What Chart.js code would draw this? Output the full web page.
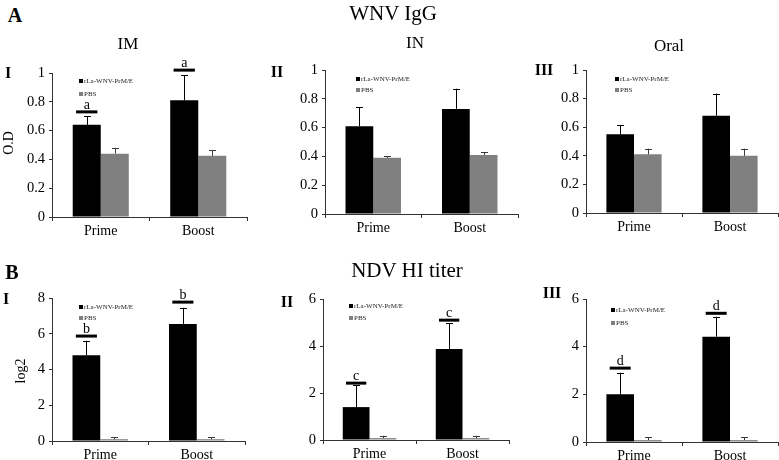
<!DOCTYPE html>
<html><head><meta charset="utf-8">
<script src="https://cdn.jsdelivr.net/npm/chart.js@4"></script>
<style>
html,body{margin:0;padding:0;background:#fff;}
body{width:779px;height:460px;position:relative;overflow:hidden;font-family:"Liberation Serif","Times New Roman",serif;color:#000;}
.c{position:absolute;}
.t{position:absolute;transform:translate(-50%,-50%);white-space:nowrap;line-height:1;}
.b{font-weight:bold;}
.lg{position:absolute;font-size:7px;line-height:1;white-space:nowrap;color:#222;}
.lg i{display:inline-block;width:4px;height:4px;margin-right:1px;vertical-align:0px;}
</style></head><body>
<script>
// ---------- data ----------
const categories = ['Prime', 'Boost'];
const seriesNames = ['rLa-WNV-PrM/E', 'PBS'];

// A: WNV IgG (O.D)
const imVaccine = [0.64, 0.81];   const imVaccineSD = [0.06, 0.175];
const imPBS = [0.44, 0.425];      const imPBSSD = [0.04, 0.04];
const inVaccine = [0.61, 0.73];   const inVaccineSD = [0.13, 0.14];
const inPBS = [0.39, 0.41];       const inPBSSD = [0.012, 0.02];
const oralVaccine = [0.55, 0.68]; const oralVaccineSD = [0.065, 0.155];
const oralPBS = [0.41, 0.40];     const oralPBSSD = [0.04, 0.05];

// B: NDV HI titer (log2)
const hiImVaccine = [4.8, 6.55];   const hiImVaccineSD = [0.8, 0.9];
const hiImPBS = [0.1, 0.1];        const hiImPBSSD = [0.1, 0.1];
const hiInVaccine = [1.4, 3.87];   const hiInVaccineSD = [0.93, 1.1];
const hiInPBS = [0.08, 0.08];      const hiInPBSSD = [0.1, 0.1];
const hiOralVaccine = [2.0, 4.42]; const hiOralVaccineSD = [0.9, 0.83];
const hiOralPBS = [0.08, 0.08];    const hiOralPBSSD = [0.12, 0.12];

// significance markers
const imSigLevels = [0.73, 1.02];      const imSigLetters = ['a', 'a'];
const hiImSigLevels = [5.87, 7.77];    const hiImSigLetters = ['b', 'b'];
const hiInSigLevels = [2.42, 5.1];     const hiInSigLetters = ['c', 'c'];
const hiOralSigLevels = [3.1, 5.4];    const hiOralSigLetters = ['d', 'd'];

// tick labels
const odTicks = [0, 0.2, 0.4, 0.6, 0.8, 1];
const odTickLabels = ['0', '0.2', '0.4', '0.6', '0.8', '1'];
const log2Ticks8 = [0, 2, 4, 6, 8];
const log2Ticks8Labels = ['0', '2', '4', '6', '8'];
const log2Ticks6 = [0, 2, 4, 6];
const log2Ticks6Labels = ['0', '2', '4', '6'];

// ---------- drawing ----------
const FONT = "'Liberation Serif','Times New Roman',serif";
const YW = 45, PT = 22, XH = 30, PR = 2;

const errorBars = {
  id: 'errorBars',
  afterDatasetsDraw(chart) {
    const ctx = chart.ctx, ys = chart.scales.y;
    chart.data.datasets.forEach((ds, i) => {
      const meta = chart.getDatasetMeta(i);
      meta.data.forEach((el, j) => {
        const top = ys.getPixelForValue(ds.data[j] + ds.sd[j]);
        ctx.save();
        ctx.strokeStyle = ds.errColor; ctx.lineWidth = 1;
        ctx.beginPath();
        ctx.moveTo(Math.round(el.x) + 0.5, el.y);
        ctx.lineTo(Math.round(el.x) + 0.5, top);
        ctx.moveTo(Math.round(el.x) - 3, Math.round(top) + 0.5);
        ctx.lineTo(Math.round(el.x) + 4, Math.round(top) + 0.5);
        ctx.stroke();
        ctx.restore();
      });
    });
  }
};

const sigMarks = {
  id: 'sigMarks',
  afterDraw(chart, args, opts) {
    if (!opts || !opts.levels) return;
    const ctx = chart.ctx, ys = chart.scales.y;
    const meta = chart.getDatasetMeta(0);
    opts.levels.forEach((lv, j) => {
      const el = meta.data[j];
      const y = ys.getPixelForValue(lv);
      const hw = el.width * 0.38;
      ctx.save();
      ctx.strokeStyle = '#000'; ctx.lineWidth = 3;
      ctx.beginPath();
      ctx.moveTo(el.x - hw, y); ctx.lineTo(el.x + hw, y);
      ctx.stroke();
      ctx.fillStyle = '#000';
      ctx.font = '14px ' + FONT;
      ctx.textAlign = 'center'; ctx.textBaseline = 'alphabetic';
      ctx.fillText(opts.letters[j], el.x, y - 3);
      ctx.restore();
    });
  }
};

function panel(p) {
  const cv = document.createElement('canvas');
  const w = p.R - p.L + YW + PR, h = p.B - p.T + PT + XH;
  cv.width = w; cv.height = h;
  cv.className = 'c';
  cv.style.left = (p.L - YW) + 'px';
  cv.style.top = (p.T - PT) + 'px';
  cv.style.width = w + 'px'; cv.style.height = h + 'px';
  document.body.appendChild(cv);
  new Chart(cv, {
    type: 'bar',
    data: {
      labels: categories,
      datasets: [
        { label: seriesNames[0], data: p.v, sd: p.vsd, backgroundColor: '#000', errColor: '#000',
          categoryPercentage: 0.575, barPercentage: 1, borderWidth: 0 },
        { label: seriesNames[1], data: p.c, sd: p.csd, backgroundColor: '#808080', errColor: '#3a3a3a',
          categoryPercentage: 0.575, barPercentage: 1, borderWidth: 0 }
      ]
    },
    options: {
      responsive: false, animation: false, devicePixelRatio: 1,
      layout: { padding: { top: PT, right: PR, left: 0, bottom: 0 } },
      plugins: { legend: { display: false }, tooltip: { enabled: false },
                 sigMarks: p.sig ? { levels: p.sig, letters: p.letters } : {} },
      scales: {
        x: {
          offset: true,
          grid: { display: true, drawOnChartArea: false, offset: true, tickLength: 4, color: '#333' },
          border: { color: '#333', width: 1 },
          ticks: { color: '#000', font: { family: FONT, size: 14 }, padding: 2 },
          afterFit(s) { s.height = XH; }
        },
        y: {
          min: 0, max: p.ticks[p.ticks.length - 1],
          afterBuildTicks(s) { s.ticks = p.ticks.map(v => ({ value: v })); },
          grid: { display: true, drawOnChartArea: false, tickLength: 3, color: '#333' },
          border: { color: '#333', width: 1 },
          ticks: { color: '#000', font: { family: FONT, size: 14.5 }, padding: 4,
                   callback: (v, i) => p.tickLabels[i] },
          afterFit(s) { s.width = YW; }
        }
      }
    },
    plugins: [errorBars, sigMarks]
  });
  // legend (html text)
  const l1 = document.createElement('div');
  l1.className = 'lg';
  l1.style.left = (p.L + p.lg[0]) + 'px'; l1.style.top = (p.T + p.lg[1] - 3) + 'px';
  l1.innerHTML = '<i style="background:#000"></i>' + seriesNames[0];
  document.body.appendChild(l1);
  const l2 = document.createElement('div');
  l2.className = 'lg';
  l2.style.left = (p.L + p.lg[0]) + 'px'; l2.style.top = (p.T + p.lg[2] - 3) + 'px';
  l2.innerHTML = '<i style="background:#808080"></i>' + seriesNames[1];
  document.body.appendChild(l2);
}

panel({ L: 52, R: 247, T: 73, B: 217, v: imVaccine, vsd: imVaccineSD, c: imPBS, csd: imPBSSD, ticks: odTicks, tickLabels: odTickLabels, sig: imSigLevels, letters: imSigLetters, lg: [27, 8, 21] });
panel({ L: 325, R: 518, T: 70, B: 214, v: inVaccine, vsd: inVaccineSD, c: inPBS, csd: inPBSSD, ticks: odTicks, tickLabels: odTickLabels, lg: [31, 9, 20] });
panel({ L: 586, R: 778, T: 70, B: 213, v: oralVaccine, vsd: oralVaccineSD, c: oralPBS, csd: oralPBSSD, ticks: odTicks, tickLabels: odTickLabels, lg: [29, 9, 20] });
panel({ L: 52, R: 245, T: 298, B: 441, v: hiImVaccine, vsd: hiImVaccineSD, c: hiImPBS, csd: hiImPBSSD, ticks: log2Ticks8, tickLabels: log2Ticks8Labels, sig: hiImSigLevels, letters: hiImSigLetters, lg: [27, 9, 20] });
panel({ L: 323, R: 509, T: 299, B: 440, v: hiInVaccine, vsd: hiInVaccineSD, c: hiInPBS, csd: hiInPBSSD, ticks: log2Ticks6, tickLabels: log2Ticks6Labels, sig: hiInSigLevels, letters: hiInSigLetters, lg: [26, 7, 19] });
panel({ L: 586, R: 778, T: 299, B: 442, v: hiOralVaccine, vsd: hiOralVaccineSD, c: hiOralPBS, csd: hiOralPBSSD, ticks: log2Ticks6, tickLabels: log2Ticks6Labels, sig: hiOralSigLevels, letters: hiOralSigLetters, lg: [25, 11, 24] });

// titles and labels
const texts = [
  ['A', 15, 15, 20, true, 0],
  ['WNV IgG', 393, 13, 21, false, 0],
  ['IM', 128, 43, 17, false, 0],
  ['IN', 415, 42, 17, false, 0],
  ['Oral', 669, 45, 17, false, 0],
  ['I', 8, 73, 16, true, 0],
  ['II', 277, 72, 16, true, 0],
  ['III', 544, 70, 16, true, 0],
  ['O.D', 9, 143, 14, false, -90],
  ['B', 12, 272, 20, true, 0],
  ['NDV HI titer', 407, 270, 21, false, 0],
  ['I', 6, 299, 16, true, 0],
  ['II', 287, 302, 16, true, 0],
  ['III', 552, 293, 16, true, 0],
  ['log2', 21, 371, 14, false, -90]
];
texts.forEach(([s, x, y, fs, bold, rot]) => {
  const d = document.createElement('div');
  d.className = 't' + (bold ? ' b' : '');
  d.style.left = x + 'px'; d.style.top = y + 'px'; d.style.fontSize = fs + 'px';
  if (rot) d.style.transform = 'translate(-50%,-50%) rotate(' + rot + 'deg)';
  d.textContent = s;
  document.body.appendChild(d);
});
</script>
</body></html>
